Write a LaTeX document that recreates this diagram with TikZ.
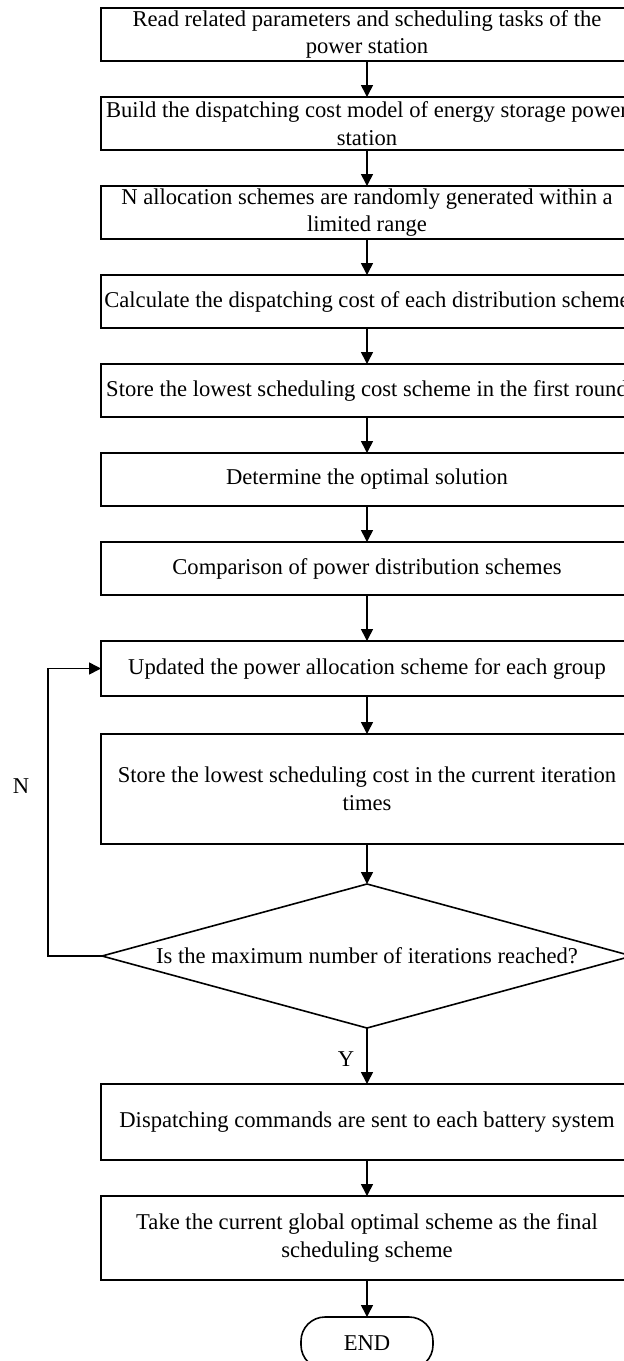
\documentclass[tikz,border=0pt]{standalone}
\usepackage{fontspec}
\setmainfont{Liberation Serif}
\usetikzlibrary{arrows.meta,shapes.geometric,positioning}

\begin{document}
\begin{tikzpicture}[
  node distance=18pt,
  box/.style={draw, line width=0.8pt, minimum width=266pt, minimum height=26.5pt,
              inner xsep=0pt, inner ysep=0.5pt, outer sep=0pt,
              font=\fontsize{11.3pt}{13.8pt}\selectfont, align=center},
  decision/.style={draw, diamond, line width=0.8pt, aspect=3.68, minimum width=265pt,
                   minimum height=72pt, inner sep=0pt, outer sep=0pt,
                   font=\fontsize{11.3pt}{13.8pt}\selectfont},
  term/.style={draw, rounded corners=12pt, line width=0.8pt, minimum width=66pt,
               minimum height=26pt, outer sep=0pt, font=\fontsize{11.3pt}{13.8pt}\selectfont},
  arr/.style={-{Triangle[length=6pt, width=6pt]}, line width=0.8pt},
  lbl/.style={font=\fontsize{11.3pt}{13.8pt}\selectfont}
]
  \useasboundingbox (0,0) rectangle (312pt,-680.5pt);

  % main column of steps
  \node[box, anchor=north] (read) at (183.5pt,-4pt)
    {Read related parameters and scheduling tasks of the\\power station};
  \node[box, below=of read] (model)
    {Build the dispatching cost model of energy storage power\\station};
  \node[box, below=of model] (init)
    {N allocation schemes are randomly generated within a\\limited range};
  \node[box, below=of init] (cost) {Calculate the dispatching cost of each distribution scheme};
  \node[box, below=of cost] (first) {Store the lowest scheduling cost scheme in the first round};
  \node[box, below=of first] (opt) {Determine the optimal solution};
  \node[box, below=of opt] (cmp) {Comparison of power distribution schemes};
  \node[box, below=23pt of cmp, minimum height=27.5pt] (upd)
    {Updated the power allocation scheme for each group};
  \node[box, below=19pt of upd, minimum height=55pt] (iter)
    {Store the lowest scheduling cost in the current iteration\\times};
  \node[decision, below=20pt of iter] (maxit) {Is the maximum number of iterations reached?};
  \node[box, below=28pt of maxit, minimum height=38pt] (send)
    {Dispatching commands are sent to each battery system};
  \node[box, below=of send, minimum height=42pt] (final)
    {Take the current global optimal scheme as the final\\scheduling scheme};
  \node[term, below=18.5pt of final] (end) {END};

  % arrows
  \draw[arr] (read) -- (model);
  \draw[arr] (model) -- (init);
  \draw[arr] (init) -- (cost);
  \draw[arr] (cost) -- (first);
  \draw[arr] (first) -- (opt);
  \draw[arr] (opt) -- (cmp);
  \draw[arr] (cmp) -- (upd);
  \draw[arr] (upd) -- (iter);
  \draw[arr] (iter) -- (maxit);
  \draw[arr] (maxit) -- node[lbl, left, pos=0.55, inner sep=6pt] (yes) {Y} (send);
  \draw[arr] (send) -- (final);
  \draw[arr] (final) -- (end);
  % loop back on N
  \draw[arr] (maxit.west) -- ++(-27pt,0) |- (upd.west);
  \node[lbl] (no) at (10.5pt,-393pt) {N};
\end{tikzpicture}
\end{document}
